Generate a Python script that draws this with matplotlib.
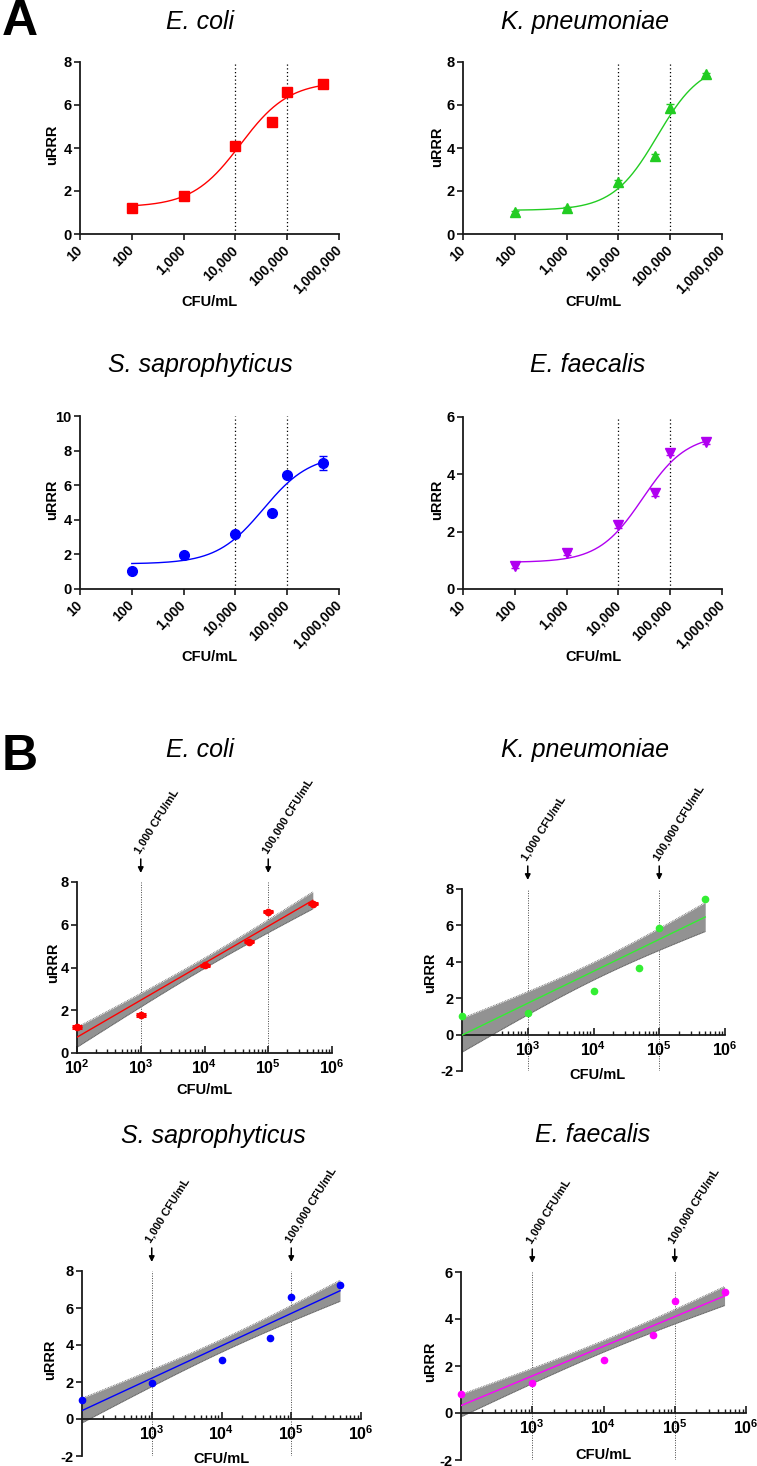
import numpy as np
import matplotlib
matplotlib.use('Agg')
import matplotlib.pyplot as plt
import matplotlib.ticker as mt
from matplotlib.transforms import blended_transform_factory, offset_copy

plt.rcParams['font.family'] = ['Liberation Sans', 'DejaVu Sans']
plt.rcParams['font.weight'] = 'bold'
plt.rcParams['axes.unicode_minus'] = False
plt.rcParams['mathtext.fontset'] = 'custom'
plt.rcParams['mathtext.rm'] = 'Liberation Sans:bold'
plt.rcParams['mathtext.bf'] = 'Liberation Sans:bold'
plt.rcParams['mathtext.it'] = 'Liberation Sans:bold'

# ---------------- data ----------------
cfu = [100, 1000, 10000, 50000, 100000, 500000]
species = ['E. coli', 'K. pneumoniae', 'S. saprophyticus', 'E. faecalis']

urrr_ecoli = [1.22, 1.78, 4.10, 5.20, 6.61, 6.99]
urrr_kpn = [1.00, 1.21, 2.41, 3.64, 5.88, 7.43]
urrr_ssap = [1.04, 1.95, 3.19, 4.39, 6.60, 7.27]
urrr_efc = [0.80, 1.26, 2.24, 3.34, 4.76, 5.13]

sem_ecoli = [0.05, 0.05, 0.08, 0.06, 0.08, 0.06]
sem_kpn = [0.05, 0.06, 0.12, 0.10, 0.15, 0.06]
sem_ssap = [0.05, 0.05, 0.08, 0.08, 0.10, 0.40]
sem_efc = [0.08, 0.08, 0.10, 0.10, 0.10, 0.06]

# 4PL fit parameters: bottom, top, logEC50, hill
fit_ecoli = [1.25, 7.10, 4.10, 0.93]
fit_kpn = [1.10, 8.00, 4.75, 1.01]
fit_ssap = [1.45, 7.80, 4.54, 0.96]
fit_efc = [0.93, 5.40, 4.47, 1.02]

colors_A = ['#ff0000', '#22cc22', '#0000ff', '#b000f0']
colors_B = ['#ff0000', '#33ee33', '#0000ff', '#ff00ff']
markers_A = ['s', '^', 'o', 'v']

xtick_A = [10, 100, 1000, 10000, 100000, 1000000]
xtick_A_labels = ['10', '100', '1,000', '10,000', '100,000', '1,000,000']
ylim_A = [(0, 8), (0, 8), (0, 10), (0, 6)]
ylim_B = [(0, 8), (-2, 8), (-2, 8), (-2, 6)]
cutoffs = [1000, 100000]
cutoff_labels = ['1,000 CFU/mL', '100,000 CFU/mL']
n_rep = 3
t_crit = 2.120  # t(0.975, df=16)

all_y = [urrr_ecoli, urrr_kpn, urrr_ssap, urrr_efc]
all_sem = [sem_ecoli, sem_kpn, sem_ssap, sem_efc]
all_fit = [fit_ecoli, fit_kpn, fit_ssap, fit_efc]

# ---------------- layout ----------------
W, H = 757, 1466
fig = plt.figure(figsize=(W / 100, H / 100), dpi=100)


def add_ax(x0, x1, ytop, ybot):
    return fig.add_axes([x0 / W, 1 - ybot / H, (x1 - x0) / W, (ybot - ytop) / H])


def ftext(x, y, s, **kw):
    fig.text(x / W, 1 - y / H, s, **kw)


boxes_A = [(80, 339, 62, 234), (463, 722, 62, 234), (80, 339, 416, 589), (463, 722, 417, 589)]
titles_A = [(200, 22), (585, 22), (200, 365), (588, 365)]
xlab_A = [(209, 302), (593, 302), (209, 657), (593, 657)]
ylab_A = [(52, 145), (437, 147), (52, 500), (437, 500)]

boxes_B = [(77, 332, 882, 1053), (462, 725, 889, 1071), (82, 361, 1271, 1456), (461, 746, 1272, 1460)]
titles_B = [(200, 750), (585, 750), (213, 1136), (593, 1135)]
xlab_B = [(205, 1090), (597, 1075), (221, 1459), (603, 1455)]
ylab_B = [(53, 963), (430, 973), (50, 1360), (430, 1362)]

spine_col = '#1a1a1a'


def style_axes(ax):
    for s in ['top', 'right']:
        ax.spines[s].set_visible(False)
    for s in ['left', 'bottom']:
        ax.spines[s].set_linewidth(1.3)
        ax.spines[s].set_color(spine_col)
    ax.tick_params(axis='both', width=1.2, color=spine_col, labelsize=10.5)
    ax.tick_params(axis='y', length=4, pad=2)


ftext(20, 22, 'A', fontsize=36, fontweight='bold', ha='center', va='center')
ftext(20, 757, 'B', fontsize=36, fontweight='bold', ha='center', va='center')

# ---------------- Panel A ----------------
for i in range(4):
    ax = add_ax(*boxes_A[i])
    style_axes(ax)
    ax.set_xscale('log')
    ax.set_xlim(10, 1e6)
    ax.set_ylim(*ylim_A[i])
    ax.set_yticks(np.arange(ylim_A[i][0], ylim_A[i][1] + 0.1, 2))
    ax.set_xticks(xtick_A)
    ax.set_xticklabels(xtick_A_labels, rotation=45, ha='right', va='center',
                       rotation_mode='anchor', fontsize=10)
    ax.xaxis.set_minor_locator(mt.NullLocator())
    ax.tick_params(axis='x', length=4, pad=6)
    for c in [10000, 100000]:
        ax.axvline(c, color='k', ls=(0, (1, 2)), lw=0.9, zorder=1)
    b, t, ec, h = all_fit[i]
    g = np.linspace(np.log10(cfu[0]), np.log10(cfu[-1]), 300)
    curve = b + (t - b) / (1 + 10 ** ((ec - g) * h))
    ax.plot(10 ** g, curve, color=colors_A[i], lw=1.0, zorder=2)
    ax.errorbar(cfu, all_y[i], yerr=all_sem[i], fmt=markers_A[i], color=colors_A[i],
                ms=6.5 if markers_A[i] != 'o' else 7, capsize=3, elinewidth=1,
                capthick=1, zorder=3, clip_on=False)
    ftext(*titles_A[i], species[i], fontsize=18, style='italic', fontweight='normal',
          ha='center', va='center')
    ftext(*xlab_A[i], 'CFU/mL', fontsize=10.5, fontweight='bold', ha='center', va='center')
    ftext(*ylab_A[i], 'uRRR', fontsize=10.5, fontweight='bold', ha='center', va='center',
          rotation=90)

# ---------------- Panel B ----------------
for i in range(4):
    ax = add_ax(*boxes_B[i])
    style_axes(ax)
    ax.set_xscale('log')
    ax.set_xlim(1e2, 1e6)
    ax.set_ylim(*ylim_B[i])
    ax.set_yticks(np.arange(ylim_B[i][0], ylim_B[i][1] + 0.1, 2))
    if ylim_B[i][0] < 0:
        ax.spines['bottom'].set_position(('data', 0))
        ticks = [1e3, 1e4, 1e5, 1e6]
    else:
        ticks = [1e2, 1e3, 1e4, 1e5, 1e6]
    ax.set_xticks(ticks)
    ax.set_xticklabels([r'$10^{%d}$' % int(np.log10(v)) for v in ticks], fontsize=11.5)
    ax.xaxis.set_minor_locator(mt.LogLocator(base=10, subs=np.arange(2, 10), numticks=20))
    ax.xaxis.set_minor_formatter(mt.NullFormatter())
    ax.tick_params(axis='x', which='major', direction='in', length=5, pad=4)
    ax.tick_params(axis='x', which='minor', direction='in', length=3, width=1.0, color=spine_col)

    for c in cutoffs:
        ax.axvline(c, color='#444444', ls=(0, (1, 1.5)), lw=0.7, zorder=1)

    # linear regression with 95% confidence band
    xs = np.log10(np.array(cfu, dtype=float))
    X = np.repeat(xs, n_rep)
    Y = np.repeat(np.array(all_y[i]), n_rep)
    slope, icpt = np.polyfit(X, Y, 1)
    resid = Y - (slope * X + icpt)
    s = np.sqrt(np.sum(resid ** 2) / (len(X) - 2))
    xbar = X.mean()
    sxx = np.sum((X - xbar) ** 2)
    g = np.linspace(xs[0], xs[-1], 200)
    fitline = slope * g + icpt
    hw = t_crit * s * np.sqrt(1 / len(X) + (g - xbar) ** 2 / sxx)
    ax.fill_between(10 ** g, fitline - hw, fitline + hw, color='#929292', lw=0, zorder=2)
    ax.plot(10 ** g, fitline + hw, color='#555555', ls=(0, (1, 1)), lw=0.6, zorder=2)
    ax.plot(10 ** g, fitline - hw, color='#555555', ls=(0, (1, 1)), lw=0.6, zorder=2)
    ax.plot(10 ** g, fitline, color=colors_B[i], lw=1.0, zorder=3)

    if i == 0:
        ax.errorbar(cfu, all_y[i], yerr=[0.03] * 6, fmt='o', color=colors_B[i], ms=4.5,
                    capsize=3.5, capthick=2.2, elinewidth=1.5, zorder=4, clip_on=False)
    else:
        ax.plot(cfu, all_y[i], 'o', color=colors_B[i], ms=4.5, zorder=4, clip_on=False)

    trans = blended_transform_factory(ax.transData, ax.transAxes)
    for c, lab in zip(cutoffs, cutoff_labels):
        head = offset_copy(trans, fig=fig, x=0, y=9, units='dots')
        tail = offset_copy(trans, fig=fig, x=0, y=23, units='dots')
        ax.annotate('', xy=(c, 1), xycoords=head, xytext=(c, 1), textcoords=tail,
                    arrowprops=dict(arrowstyle='-|>', color='k', lw=1.1,
                                    mutation_scale=8, shrinkA=0, shrinkB=0),
                    annotation_clip=False)
        ax.text(c, 1, lab, transform=offset_copy(trans, fig=fig, x=-1, y=28, units='dots'),
                rotation=58, rotation_mode='anchor', ha='left', va='baseline',
                fontsize=8, fontweight='bold', clip_on=False)

    ftext(*titles_B[i], species[i], fontsize=18, style='italic', fontweight='normal',
          ha='center', va='center')
    ftext(*xlab_B[i], 'CFU/mL', fontsize=10.5, fontweight='bold', ha='center', va='center')
    ftext(*ylab_B[i], 'uRRR', fontsize=10.5, fontweight='bold', ha='center', va='center',
          rotation=90)

fig.savefig('out.png', dpi=100, facecolor='white')
